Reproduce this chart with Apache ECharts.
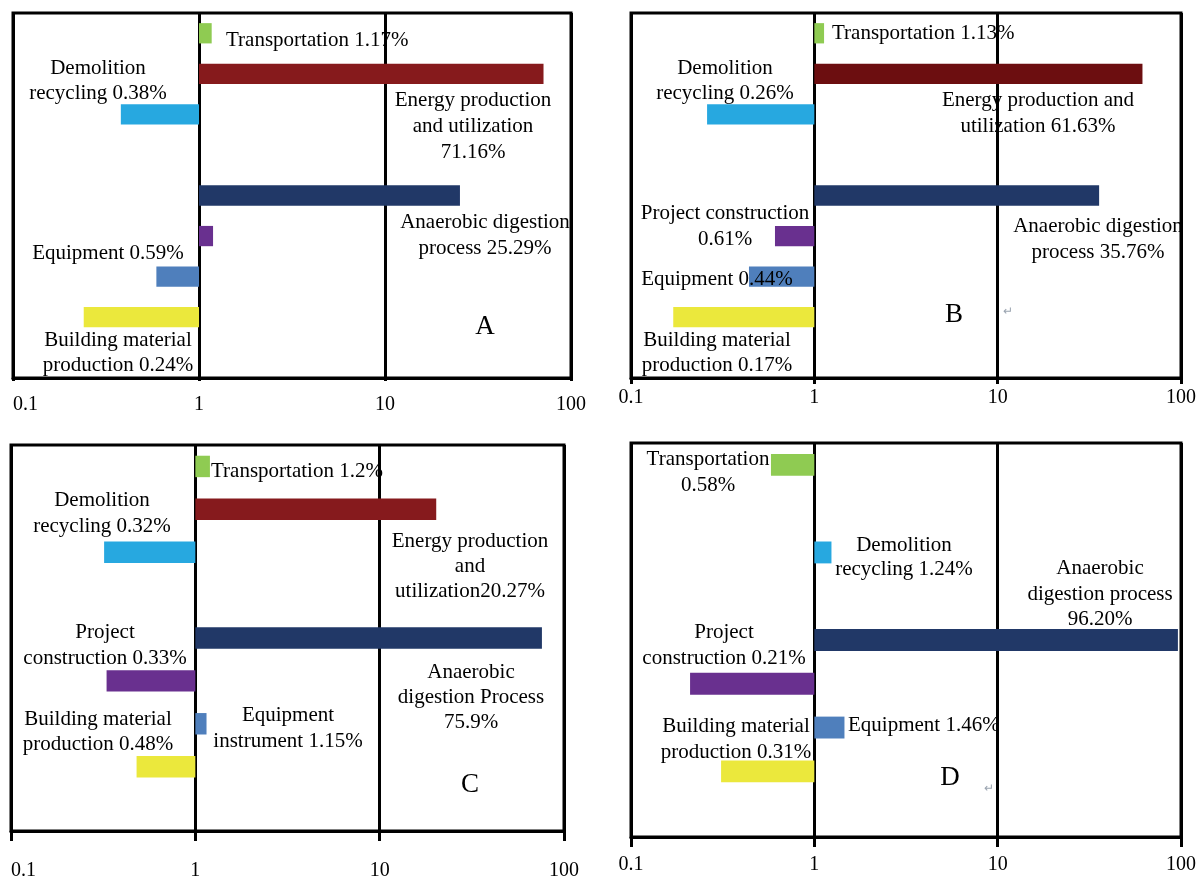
<!DOCTYPE html>
<html><head><meta charset="utf-8">
<script src="https://cdn.jsdelivr.net/npm/echarts@6/dist/echarts.min.js"></script>
<style>html,body{margin:0;padding:0;background:#fff}#c{width:1199px;height:881px}</style>
</head><body><div id="c"></div>
<script>
// ---- data ----
const CATEGORIES = ['Transportation', 'Energy production and utilization', 'Demolition recycling', 'gap1',
  'Anaerobic digestion process', 'Project construction', 'Equipment', 'Building material production', 'gap2'];
const VALUES_A = [1.17, 71.16, 0.38, null, 25.29, 1.19, 0.59, 0.24, null];
const VALUES_B = [1.13, 61.63, 0.26, null, 35.76, 0.61, 0.44, 0.17, null];
const VALUES_C = [1.2, 20.27, 0.32, null, 75.9, 0.33, 1.15, 0.48, null];
const VALUES_D = [0.58, null, 1.24, null, 96.20, 0.21, 1.46, 0.31, null];
const X_TICKS = ['0.1', '1', '10', '100'];
const PANEL_LETTERS = ['A', 'B', 'C', 'D'];

// ---- styles ----
const BASE_COLORS = ['#8fcb52', '#861a1c', '#27a8e0', '#000', '#213867', '#69308f', '#4f7fbc', '#ebe83c', '#000'];
const ENERGY_COLORS = ['#861a1c', '#6c0e10', '#861a1d', '#861a1d'];
const FONT = 'Liberation Serif';
const FS = 21;

const GRIDS = [
  {left: 13, top: 13, width: 558, height: 365},
  {left: 631, top: 13, width: 555, height: 365},
  {left: 11, top: 445, width: 553, height: 387},
  {left: 631, top: 443, width: 557, height: 394}
];
const TICK_LEN = [3, 6, 10, 10];
const LABEL_MARGIN = [17, 10, 30, 18];
const MIN_ALIGN = ['left', 'center', 'left', 'center'];

const ALL = [VALUES_A, VALUES_B, VALUES_C, VALUES_D];

function txt(x, y, text, align, lh, size, color, z) {
  return {type: 'text', x: x, y: y, z: z == null ? 10 : z,
    style: {text: text, fill: color || '#000', font: (size || FS) + 'px "' + FONT + '"',
      textAlign: align || 'center', textVerticalAlign: 'middle', lineHeight: lh || 25}};
}

const labels = [
  // A
  txt(226, 40, 'Transportation 1.17%', 'left'),
  txt(98, 80.5, 'Demolition\nrecycling 0.38%'),
  txt(473, 126, 'Energy production\nand utilization\n71.16%', 'center', 26),
  txt(485, 235, 'Anaerobic digestion\nprocess 25.29%', 'center', 26),
  txt(108, 253, 'Equipment 0.59%'),
  txt(118, 352.5, 'Building material\nproduction 0.24%'),
  // B
  txt(832, 33, 'Transportation 1.13%', 'left'),
  txt(725, 80.5, 'Demolition\nrecycling 0.26%'),
  txt(1038, 113, 'Energy production and\nutilization 61.63%', 'center', 26),
  txt(725, 226, 'Project construction\n0.61%', 'center', 26),
  txt(1098, 239, 'Anaerobic digestion\nprocess 35.76%', 'center', 26),
  txt(717, 279, 'Equipment 0.44%'),
  txt(717, 352.5, 'Building material\nproduction 0.17%'),
  txt(1008, 312, '\u21b5', 'center', 14, 12, '#9aa4b0'),
  // C
  txt(211, 471, 'Transportation 1.2%', 'left'),
  txt(102, 513, 'Demolition\nrecycling 0.32%', 'center', 26),
  txt(470, 566, 'Energy production\nand\nutilization20.27%', 'center', 25),
  txt(105, 645, 'Project\nconstruction 0.33%', 'center', 26),
  txt(471, 697, 'Anaerobic\ndigestion Process\n75.9%', 'center', 25),
  txt(98, 731.5, 'Building material\nproduction 0.48%'),
  txt(288, 728, 'Equipment\ninstrument 1.15%', 'center', 26),
  // D
  txt(708, 472, 'Transportation\n0.58%', 'center', 26),
  txt(904, 557, 'Demolition\nrecycling 1.24%', 'center', 24),
  txt(1100, 594, 'Anaerobic\ndigestion process\n96.20%', 'center', 25.5, FS, '#000', 0),
  txt(724, 645, 'Project\nconstruction 0.21%', 'center', 26),
  txt(848, 725, 'Equipment 1.46%', 'left'),
  txt(736, 739, 'Building material\nproduction 0.31%', 'center', 26),
  txt(989, 789, '\u21b5', 'center', 14, 12, '#9aa4b0'),
  // letters
  txt(485, 327, PANEL_LETTERS[0], 'center', 27, 27),
  txt(954, 315, PANEL_LETTERS[1], 'center', 27, 27),
  txt(470, 785, PANEL_LETTERS[2], 'center', 27, 27),
  txt(950, 778, PANEL_LETTERS[3], 'center', 27, 27)
];

const chart = echarts.init(document.getElementById('c'), null, {renderer: 'canvas'});
const option = {
  backgroundColor: '#fff',
  animation: false,
  grid: GRIDS.map(g => Object.assign({show: true, borderColor: '#000', borderWidth: 3, backgroundColor: 'transparent'}, g)),
  xAxis: GRIDS.map((g, i) => ({
    type: 'log', logBase: 10, min: 0.1, max: 100, gridIndex: i,
    axisLine: {show: true, lineStyle: {color: '#000', width: 3}},
    axisTick: {show: true, length: TICK_LEN[i], lineStyle: {color: '#000', width: 3}},
    splitLine: {show: true, lineStyle: {color: '#000', width: 3}},
    minorTick: {show: false}, minorSplitLine: {show: false},
    axisLabel: {color: '#000', fontFamily: FONT, fontSize: 20, margin: LABEL_MARGIN[i],
      alignMinLabel: MIN_ALIGN[i], alignMaxLabel: 'center',
      formatter: v => X_TICKS[Math.round(Math.log10(v)) + 1]}
  })),
  yAxis: GRIDS.map((g, i) => ({
    type: 'category', inverse: true, gridIndex: i, data: CATEGORIES, show: false
  })),
  series: ALL.map((vals, i) => ({
    type: 'bar', xAxisIndex: i, yAxisIndex: i, barWidth: '50%', z: 2,
    data: vals.map((v, k) => ({
      value: v == null ? '-' : v,
      itemStyle: {color: k === 1 ? ENERGY_COLORS[i] : BASE_COLORS[k]}
    }))
  })),
  graphic: labels
};
chart.setOption(option);
</script>
</body></html>
